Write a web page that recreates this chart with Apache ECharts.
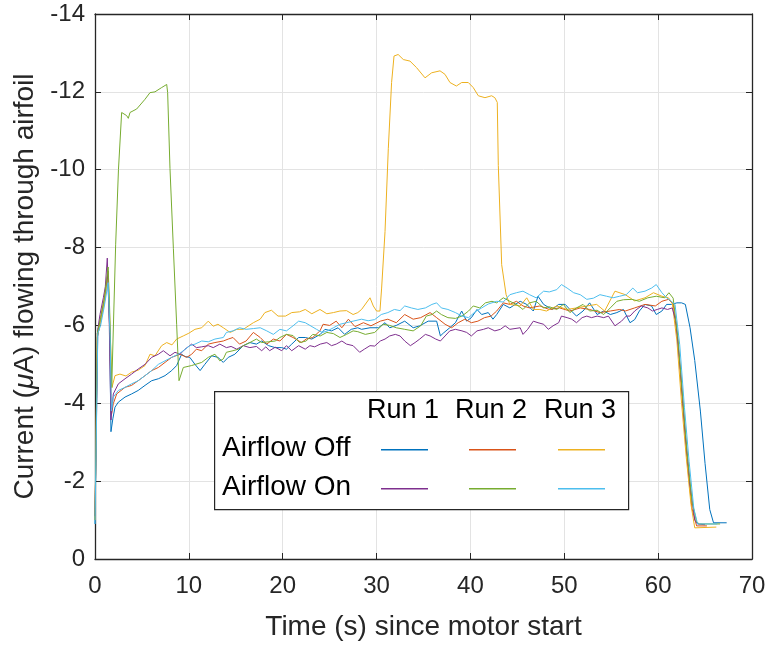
<!DOCTYPE html>
<html lang="en">
<head>
    <meta charset="utf-8">
    <script src="https://cdn.jsdelivr.net/npm/echarts@6/dist/echarts.min.js"></script>
    <style>
        html, body { margin: 0; padding: 0; background: #fff; }
        #chart { width: 769px; height: 646px; }
    </style>
</head>
<body>
<div id="chart"></div>
<script>
    // time (s), current (uA)
    var run1Off = [[0,-0.9],[0.25,-5.7],[0.6,-6.1],[1.0,-6.6],[1.35,-7.3],[1.55,-6.0],[1.7,-3.27],[1.9,-3.6],[2.13,-3.9],[2.49,-4.03],[3.2,-4.16],[3.9,-4.24],[4.6,-4.33],[5.33,-4.46],[6.04,-4.58],[6.75,-4.63],[7.46,-4.71],[8.17,-4.84],[8.7,-4.97],[9.23,-5.26],[9.6,-5.2],[10.1,-5.18],[10.65,-5.0],[11.2,-4.84],[11.7,-5.0],[12.43,-5.22],[13.1,-5.18],[13.67,-5.05],[14.2,-5.18],[14.9,-5.26],[15.8,-5.48],[16.5,-5.56],[17.2,-5.52],[17.76,-5.6],[18.5,-5.48],[19.2,-5.43],[19.9,-5.43],[20.4,-5.39],[20.96,-5.52],[21.7,-5.69],[22.4,-5.69],[23.1,-5.65],[24.0,-5.77],[24.5,-5.9],[25.2,-5.86],[25.9,-5.94],[26.6,-5.77],[27.3,-5.9],[28.0,-5.94],[28.4,-5.9],[29.3,-5.94],[30.2,-5.94],[30.9,-6.07],[31.4,-5.94],[32.1,-6.0],[33.0,-6.11],[33.9,-5.94],[34.6,-5.99],[35.5,-6.11],[36.4,-6.11],[36.8,-5.73],[37.1,-5.8],[37.8,-5.94],[38.4,-6.07],[39.07,-6.37],[39.6,-6.11],[40.1,-6.2],[40.7,-6.41],[41.2,-6.28],[41.9,-6.33],[42.4,-6.16],[42.8,-6.28],[43.5,-6.54],[44.2,-6.45],[45.3,-6.62],[46.0,-6.54],[46.7,-6.37],[47.2,-6.75],[47.8,-6.54],[48.7,-6.41],[49.4,-6.54],[50.1,-6.54],[50.6,-6.41],[51.3,-6.24],[52.0,-6.37],[52.7,-6.58],[53.5,-6.28],[54.2,-6.37],[54.9,-6.28],[55.6,-6.33],[56.3,-6.41],[57.0,-6.07],[57.5,-6.15],[58.0,-6.37],[58.6,-6.54],[59.3,-6.5],[59.8,-6.28],[60.4,-6.37],[60.9,-6.54],[61.4,-6.54],[62.0,-6.58],[62.5,-6.58],[62.9,-6.54],[63.4,-5.94],[63.9,-5.1],[64.5,-3.8],[65.0,-2.45],[65.5,-1.27],[65.9,-0.93],[67.3,-0.93]];
    var run2Off = [[0,-1.0],[0.25,-5.8],[0.6,-6.2],[1.0,-6.7],[1.4,-7.4],[1.6,-5.5],[1.75,-3.7],[1.95,-3.99],[2.31,-4.24],[3.2,-4.41],[3.9,-4.46],[4.6,-4.58],[5.33,-4.71],[6.04,-4.84],[6.75,-4.92],[7.46,-5.05],[8.17,-5.18],[9.06,-5.26],[9.77,-5.18],[10.3,-5.26],[10.8,-5.39],[11.37,-5.35],[12.07,-5.52],[12.78,-5.56],[13.67,-5.6],[14.2,-5.65],[14.7,-5.69],[15.4,-5.52],[16.1,-5.6],[16.87,-5.82],[17.6,-5.69],[18.3,-5.52],[19.0,-5.65],[19.7,-5.6],[20.4,-5.77],[21.1,-5.69],[22.0,-5.56],[22.5,-5.65],[23.2,-5.69],[23.97,-5.86],[24.3,-6.03],[25.0,-6.0],[25.7,-6.11],[26.3,-5.94],[27.0,-6.16],[27.7,-5.97],[28.6,-6.07],[29.4,-5.99],[30.4,-6.11],[31.2,-6.16],[32.1,-6.07],[33.0,-6.28],[33.9,-6.16],[34.7,-6.2],[35.7,-6.33],[36.4,-6.2],[37.3,-6.03],[38.0,-5.94],[38.7,-6.07],[39.4,-6.16],[40.1,-6.07],[40.8,-6.11],[41.5,-6.2],[42.2,-6.24],[42.8,-6.37],[43.5,-6.58],[44.2,-6.54],[44.9,-6.62],[45.6,-6.5],[46.3,-6.45],[47.4,-6.5],[48.4,-6.41],[49.5,-6.45],[50.6,-6.37],[51.7,-6.45],[52.7,-6.41],[53.8,-6.33],[54.9,-6.37],[55.9,-6.41],[56.5,-6.37],[57.5,-6.45],[58.6,-6.54],[59.7,-6.5],[60.4,-6.62],[61.1,-6.67],[61.6,-6.55],[62.1,-5.6],[62.6,-4.0],[63.1,-2.5],[63.6,-1.3],[64.1,-0.85],[65.2,-0.85]];
    var run3Off = [[0,-1.0],[0.25,-5.7],[0.6,-6.1],[1.0,-6.6],[1.4,-7.2],[1.6,-6.0],[1.8,-4.4],[2.13,-4.71],[2.66,-4.75],[3.3,-4.7],[3.9,-4.8],[4.6,-4.85],[5.33,-4.97],[5.86,-5.26],[6.39,-5.22],[7.1,-5.48],[7.64,-5.56],[8.2,-5.5],[8.7,-5.65],[9.4,-5.73],[10.0,-5.8],[10.65,-5.9],[11.37,-5.94],[12.07,-6.11],[12.6,-5.98],[13.1,-6.03],[13.67,-5.94],[14.4,-5.82],[15.1,-5.9],[15.8,-5.9],[16.87,-6.07],[17.6,-6.16],[18.1,-6.33],[18.8,-6.39],[19.5,-6.24],[20.3,-6.24],[20.96,-6.33],[21.8,-6.35],[22.4,-6.41],[23.1,-6.3],[23.97,-6.41],[24.7,-6.3],[25.4,-6.33],[26.1,-6.37],[26.8,-6.38],[27.5,-6.28],[28.0,-6.33],[28.4,-6.41],[29.3,-6.71],[29.65,-6.5],[30.0,-6.37],[30.36,-6.37],[30.54,-6.96],[30.9,-8.41],[31.25,-10.54],[31.6,-12.24],[31.86,-12.92],[32.3,-12.96],[32.85,-12.83],[33.56,-12.79],[34.27,-12.62],[35.16,-12.36],[35.87,-12.49],[36.76,-12.54],[37.29,-12.45],[37.82,-12.24],[38.5,-12.15],[39.07,-12.24],[39.77,-12.24],[40.3,-12.11],[40.84,-11.9],[41.55,-11.85],[42.26,-11.9],[42.6,-11.85],[42.86,-11.73],[42.97,-10.11],[43.33,-7.56],[43.8,-6.79],[44.2,-6.54],[45.3,-6.5],[46.0,-6.71],[46.7,-6.41],[47.4,-6.41],[48.1,-6.37],[49.2,-6.5],[50.3,-6.41],[51.3,-6.45],[52.4,-6.5],[53.45,-6.54],[54.3,-6.37],[55.4,-6.88],[56.5,-6.79],[57.5,-6.63],[58.6,-6.71],[59.5,-6.84],[60.4,-6.75],[61.1,-6.71],[61.5,-6.58],[62.0,-5.6],[62.5,-4.0],[63.0,-2.6],[63.5,-1.4],[63.9,-0.8],[66.2,-0.82]];
    var run1On = [[0,-1.1],[0.3,-5.9],[0.53,-6.28],[0.89,-6.71],[1.1,-7.0],[1.31,-7.73],[1.5,-6.3],[1.7,-3.57],[1.95,-4.24],[2.49,-4.5],[3.2,-4.63],[3.9,-4.75],[4.6,-4.88],[5.33,-5.0],[6.04,-5.18],[6.75,-5.26],[7.28,-5.35],[7.99,-5.22],[8.52,-5.31],[9.06,-5.26],[9.59,-5.39],[10.3,-5.52],[10.8,-5.43],[11.37,-5.45],[12.07,-5.48],[12.6,-5.43],[13.3,-5.52],[14.0,-5.43],[14.5,-5.46],[15.1,-5.39],[15.8,-5.48],[16.5,-5.43],[17.2,-5.46],[17.76,-5.35],[18.2,-5.45],[18.6,-5.35],[19.2,-5.44],[19.9,-5.35],[20.4,-5.48],[20.96,-5.35],[21.7,-5.48],[22.4,-5.39],[22.9,-5.48],[23.4,-5.45],[24.0,-5.52],[24.7,-5.56],[25.2,-5.48],[25.7,-5.52],[26.3,-5.6],[26.8,-5.52],[27.5,-5.48],[28.2,-5.31],[28.7,-5.39],[29.3,-5.48],[29.8,-5.47],[30.4,-5.6],[30.9,-5.65],[31.4,-5.73],[32.0,-5.77],[32.5,-5.73],[33.0,-5.6],[33.6,-5.48],[34.1,-5.56],[34.6,-5.65],[35.2,-5.77],[35.7,-5.73],[36.3,-5.65],[36.8,-5.6],[37.3,-5.73],[37.8,-5.86],[38.4,-5.9],[39.1,-5.86],[39.6,-5.82],[40.1,-5.73],[40.7,-5.86],[41.4,-5.9],[41.9,-5.94],[42.6,-5.86],[43.2,-5.9],[43.7,-5.99],[44.2,-5.9],[45.3,-5.94],[45.6,-5.77],[46.1,-5.9],[46.7,-6.11],[47.2,-6.07],[47.8,-6.03],[48.3,-5.9],[48.8,-5.99],[49.4,-6.07],[49.7,-6.24],[50.3,-6.2],[50.8,-6.16],[51.3,-6.07],[51.9,-6.2],[52.4,-6.24],[52.9,-6.2],[53.5,-6.24],[54.2,-6.2],[54.7,-6.24],[55.4,-5.99],[56.1,-6.11],[56.6,-6.24],[57.0,-6.24],[57.5,-6.37],[58.2,-6.5],[58.9,-6.45],[59.4,-6.37],[59.9,-6.41],[60.4,-6.45],[61.0,-6.41],[61.5,-6.45],[61.9,-6.1],[62.4,-4.8],[62.9,-3.2],[63.4,-1.9],[63.9,-1.0],[64.2,-0.9],[65.0,-0.88]];
    var run2On = [[0,-1.0],[0.25,-5.8],[0.6,-6.2],[1.0,-6.7],[1.4,-7.5],[1.55,-6.5],[1.78,-4.41],[2.2,-8.07],[2.5,-10.0],[2.84,-11.47],[3.37,-11.39],[3.55,-11.32],[3.73,-11.47],[4.44,-11.56],[5.33,-11.81],[5.86,-11.98],[6.39,-12.0],[7.1,-12.11],[7.64,-12.19],[7.74,-11.98],[7.99,-10.03],[8.35,-7.98],[8.7,-6.03],[8.95,-4.58],[9.06,-4.54],[9.41,-4.92],[10.3,-4.97],[11.37,-5.05],[12.07,-5.18],[12.78,-5.26],[13.3,-5.09],[13.67,-5.14],[14.0,-5.31],[14.7,-5.35],[15.3,-5.39],[15.8,-5.48],[16.5,-5.56],[17.2,-5.65],[17.76,-5.56],[18.5,-5.58],[19.2,-5.6],[19.7,-5.69],[20.4,-5.77],[21.1,-5.74],[21.8,-5.56],[22.5,-5.6],[23.2,-5.77],[24.0,-5.73],[24.7,-5.82],[25.4,-5.79],[26.1,-5.69],[26.8,-5.77],[27.5,-5.86],[28.0,-5.84],[28.8,-5.77],[29.8,-5.82],[30.7,-6.03],[31.4,-6.0],[32.1,-5.94],[33.0,-5.9],[33.9,-5.86],[34.7,-5.99],[35.3,-6.24],[35.9,-6.28],[36.4,-6.37],[36.9,-6.28],[37.6,-6.2],[38.4,-6.18],[39.1,-6.24],[39.8,-6.37],[40.3,-6.5],[41.0,-6.45],[41.6,-6.58],[42.3,-6.62],[42.8,-6.58],[43.5,-6.71],[44.2,-6.62],[44.9,-6.54],[45.6,-6.41],[46.3,-6.58],[47.0,-6.62],[47.8,-6.45],[48.4,-6.48],[49.2,-6.41],[49.9,-6.54],[50.6,-6.33],[51.3,-6.45],[52.0,-6.54],[52.7,-6.37],[53.5,-6.39],[54.2,-6.28],[54.9,-6.45],[55.6,-6.62],[56.3,-6.66],[57.2,-6.67],[58.0,-6.62],[58.9,-6.71],[59.8,-6.75],[60.7,-6.71],[61.15,-6.84],[61.6,-6.7],[62.1,-5.7],[62.6,-4.2],[63.1,-2.7],[63.6,-1.5],[64.1,-0.95],[64.4,-0.9],[66.6,-0.9]];
    var run3On = [[0,-0.9],[0.3,-5.8],[0.6,-6.0],[1.0,-6.5],[1.4,-7.1],[1.6,-5.8],[1.75,-3.8],[1.95,-4.16],[2.49,-4.33],[3.2,-4.41],[3.9,-4.5],[4.6,-4.58],[5.33,-4.71],[6.04,-4.84],[6.75,-5.0],[7.46,-5.09],[8.17,-5.18],[8.88,-5.26],[9.41,-5.35],[10.1,-5.48],[10.65,-5.52],[11.37,-5.6],[12.07,-5.58],[12.78,-5.65],[13.67,-5.69],[14.0,-5.82],[14.7,-5.86],[15.4,-5.94],[16.1,-5.9],[16.9,-5.92],[17.6,-5.94],[18.3,-5.86],[19.0,-5.77],[19.7,-5.9],[20.4,-5.86],[21.1,-5.99],[21.7,-6.11],[22.4,-6.07],[22.9,-6.0],[23.6,-5.9],[24.2,-5.82],[24.7,-5.85],[25.4,-5.94],[26.1,-6.03],[26.8,-6.07],[27.5,-6.11],[28.4,-6.16],[29.1,-6.12],[29.8,-6.15],[30.5,-6.28],[31.2,-6.33],[31.9,-6.41],[32.5,-6.38],[33.0,-6.5],[33.7,-6.45],[34.4,-6.41],[35.2,-6.45],[35.9,-6.54],[36.4,-6.58],[36.9,-6.45],[37.6,-6.41],[38.4,-6.33],[39.1,-6.24],[39.8,-6.2],[40.5,-6.35],[41.2,-6.45],[41.9,-6.55],[42.8,-6.62],[43.5,-6.6],[44.2,-6.79],[44.9,-6.84],[45.6,-6.88],[46.3,-6.79],[47.0,-6.71],[47.8,-6.88],[48.4,-6.86],[49.2,-6.92],[49.7,-7.05],[50.3,-6.96],[51.0,-6.84],[51.7,-6.79],[52.4,-6.67],[53.1,-6.7],[53.8,-6.79],[54.5,-6.75],[55.2,-6.71],[55.9,-6.75],[56.6,-6.79],[57.3,-6.96],[57.8,-6.84],[58.6,-6.88],[59.3,-6.96],[59.8,-7.05],[60.4,-6.84],[60.9,-6.71],[61.4,-6.62],[61.8,-6.54],[62.3,-5.5],[62.8,-3.9],[63.3,-2.5],[63.8,-1.3],[64.2,-0.9],[66.3,-0.9]];

    var seriesNames = ['Run 1 Off', 'Run 2 Off', 'Run 3 Off', 'Run 1 On', 'Run 2 On', 'Run 3 On'];
    var seriesData = [run1Off, run2Off, run3Off, run1On, run2On, run3On];
    var colors = ['#0072BD', '#D95319', '#EDB120', '#7E2F8E', '#77AC30', '#4DBEEE'];
    var colHeads = ['Run 1', 'Run 2', 'Run 3'];
    var rowHeads = ['Airflow Off', 'Airflow On'];

    var font = '"Liberation Sans", Arial, sans-serif';
    var ink = '#262626';

    var myChart = echarts.init(document.getElementById('chart'));

    function frameAxis(pos, isX) {
        var a = {
            type: 'value', position: pos,
            axisLine: {show: true, onZero: false, lineStyle: {color: ink, width: 1.3}},
            axisTick: {show: true, inside: true, length: 6, lineStyle: {color: ink}},
            axisLabel: {show: false},
            splitLine: {show: false}
        };
        if (isX) { a.min = 0; a.max = 70; a.interval = 10; }
        else { a.min = -14; a.max = 0; a.interval = 2; a.inverse = true; }
        return a;
    }

    // legend glyphs, one legend per cell of the grid
    var legends = [];
    var colX = [381, 469, 558];
    var rowY = [450, 489];
    seriesNames.forEach(function (n, i) {
        legends.push({
            data: [n], left: colX[i % 3], top: rowY[Math.floor(i / 3)] - 1,
            z: 20,
            icon: 'rect', itemWidth: 47, itemHeight: 1.5, itemGap: 0, padding: 0,
            selectedMode: false, formatter: function () { return ''; },
            textStyle: {fontSize: 2, lineHeight: 2}
        });
    });

    var graphics = [{
        type: 'rect', left: 214, top: 391, z: 10,
        shape: {width: 414, height: 118},
        style: {fill: '#fff', stroke: ink, lineWidth: 1.2}
    }];
    colHeads.forEach(function (t, i) {
        graphics.push({type: 'text', left: [367, 455, 544][i], top: 397, z: 11,
            style: {text: t, font: '27px ' + font, fill: '#000'}});
    });
    rowHeads.forEach(function (t, i) {
        graphics.push({type: 'text', left: 222, top: rowY[i] - 16, z: 11,
            style: {text: t, font: '28px ' + font, fill: '#000'}});
    });

    var option = {
        animation: false,
        color: colors,
        grid: {left: 95, right: 17, top: 14, bottom: 83},
        xAxis: [{
            type: 'value', min: 0, max: 70, interval: 10,
            name: 'Time (s) since motor start', nameLocation: 'middle', nameGap: 54,
            nameTextStyle: {fontSize: 28, color: ink, fontFamily: font},
            axisLine: {show: true, onZero: false, lineStyle: {color: ink, width: 1.3}},
            axisTick: {show: true, inside: true, length: 6, lineStyle: {color: ink}},
            axisLabel: {fontSize: 24, color: ink, fontFamily: font, margin: 15},
            splitLine: {show: true, lineStyle: {color: '#e3e3e3', width: 1}}
        }, frameAxis('top', true)],
        yAxis: [{
            type: 'value', min: -14, max: 0, interval: 2, inverse: true,
            name: 'Current ({i|μ}A) flowing through airfoil', nameLocation: 'middle', nameGap: 52,
            nameTextStyle: {fontSize: 28, color: ink, fontFamily: font,
                rich: {i: {fontSize: 28, fontStyle: 'italic', color: ink, fontFamily: font}}},
            axisLine: {show: true, onZero: false, lineStyle: {color: ink, width: 1.3}},
            axisTick: {show: true, inside: true, length: 6, lineStyle: {color: ink}},
            axisLabel: {fontSize: 24, color: ink, fontFamily: font, margin: 10},
            splitLine: {show: true, lineStyle: {color: '#e3e3e3', width: 1}}
        }, frameAxis('right', false)],
        legend: legends,
        graphic: graphics,
        series: seriesNames.map(function (n, i) {
            return {
                name: n, type: 'line', data: seriesData[i],
                showSymbol: false, symbol: 'none',
                lineStyle: {width: 1, color: colors[i]},
                z: 2 + i
            };
        })
    };

    myChart.setOption(option);
</script>
</body>
</html>
